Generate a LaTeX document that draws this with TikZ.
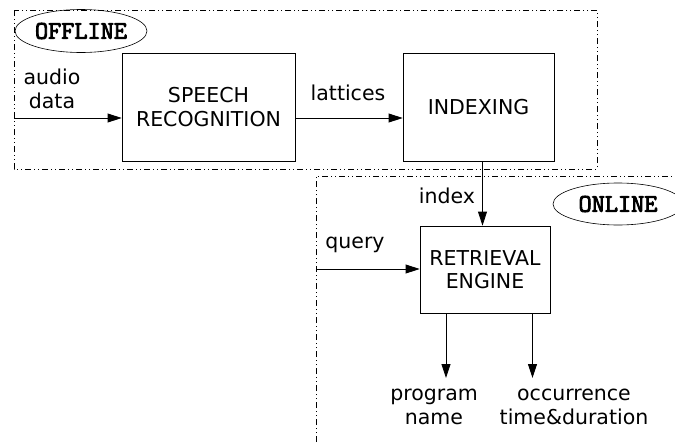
\documentclass[tikz,border=0pt]{standalone}
\usepackage{fontspec}
\setmainfont{DejaVu Sans}
\newfontfamily\tagfont[AutoFakeBold=3.5]{Latin Modern Mono}
\usetikzlibrary{arrows.meta,shapes.geometric}
\begin{document}
\begin{tikzpicture}[x=1pt,y=-1pt,
  lbl/.style={font=\fontsize{20.5}{23.5}\selectfont, align=center, inner sep=0pt},
  block/.style={draw, line width=0.8pt, lbl},
  tag/.style={draw, ellipse, line width=0.6pt, inner sep=0pt,
    font=\fontsize{25.5}{27}\selectfont\tagfont\bfseries},
  region/.style={line width=0.5pt, dash pattern=on 6pt off 3pt on 1pt off 3pt on 1pt off 3pt},
  flow/.style={line width=0.8pt, -{Triangle[length=14pt,width=9pt]}}]
\useasboundingbox (0,0) rectangle (675,442);

% offline and online regions
\draw[region] (14,10) rectangle (597,169);
\draw[region] (316,442) -- (316,176) -- (675,176);

% region tags
\node[tag, minimum width=132pt, minimum height=43pt] (off) at (81,31) {OFFLINE};
\node[tag, minimum width=130pt, minimum height=42pt] (on) at (618,204) {ONLINE};

% processing blocks
\node[block, minimum width=173pt, minimum height=108pt] (asr) at (208.5,107) {SPEECH\\RECOGNITION};
\node[block, minimum width=151pt, minimum height=108pt] (idx) at (478.5,107) {INDEXING};
\node[block, minimum width=130pt, minimum height=87pt] (ret) at (485,269.5) {RETRIEVAL\\ENGINE};

% inputs and outputs
\coordinate (audio) at (14,118);
\coordinate (query) at (316,269);
\node[lbl] (prog) at (434,407) {program\\name};
\node[lbl] (occ) at (574,407) {occurrence\\time\&duration};

% connectors
\draw[flow] (audio) -- (asr.west |- audio);
\draw[flow] (asr.east |- audio) -- (idx.west |- audio);
\draw[flow] (idx.south -| 482.5,0) -- (ret.north -| 482.5,0);
\draw[flow] (query) -- (ret.west |- query);
\coordinate (pa) at (446,378);
\coordinate (oa) at (532.5,378);
\draw[flow] (ret.south -| pa) -- (pa);
\draw[flow] (ret.south -| oa) -- (oa);

% connector labels
\node[lbl] (laudio) at (52,89) {audio\\data};
\node[lbl] (llat) at (348,93) {lattices};
\node[lbl] (lidx) at (447,196) {index};
\node[lbl] (lq) at (355,245) {query};
\end{tikzpicture}
\end{document}
